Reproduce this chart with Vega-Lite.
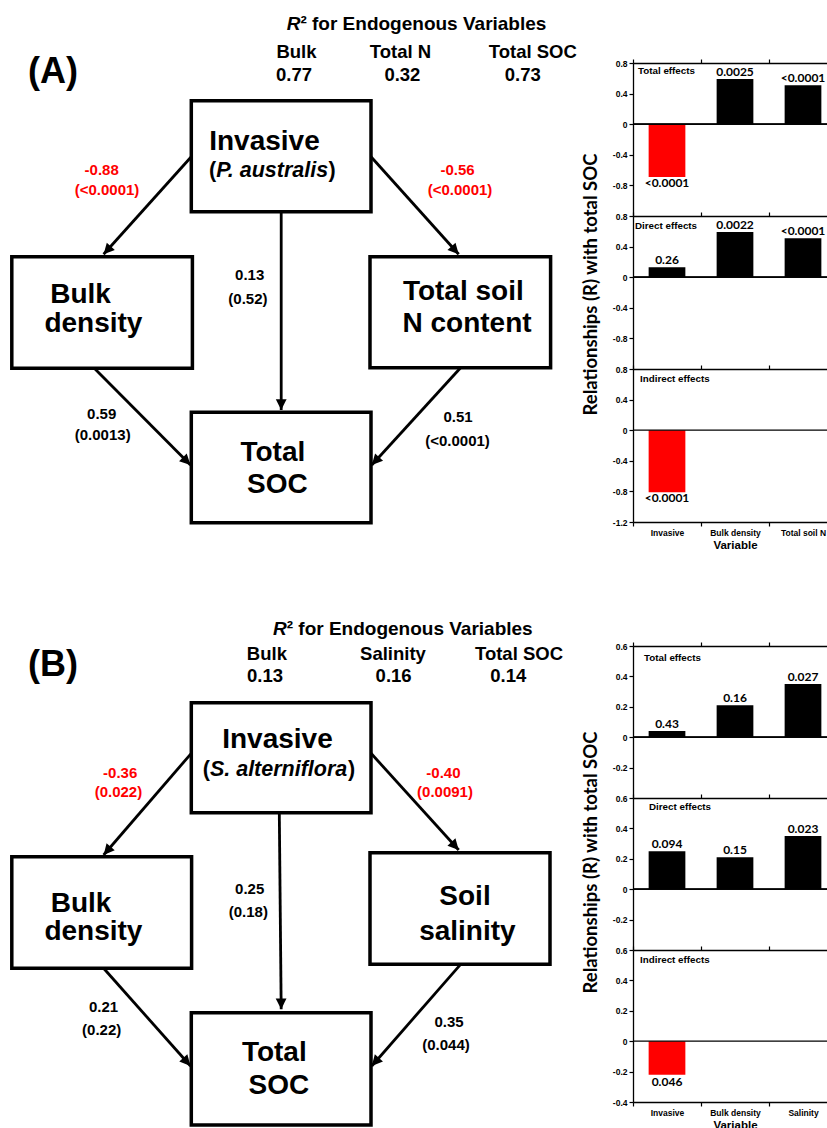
{
  "$schema": "https://vega.github.io/schema/vega-lite/v6.json",
  "padding": 0,
  "background": "white",
  "config": {
    "view": {"stroke": null},
    "font": "Liberation Sans",
    "axis": {"domainColor": "#000", "tickColor": "#000", "labelColor": "#000", "titleColor": "#000", "domainWidth": 1.3, "tickWidth": 1.2, "tickSize": 4, "grid": false, "labelFont": "Liberation Sans", "labelFontWeight": "bold", "labelFontSize": 8.5, "labelPadding": 2},
    "text": {"color": "#000"}
  },
  "datasets": {
    "nodes": [
      {"fig": "A", "node": "Invasive", "x1": 191.3, "x2": 371, "y1": 100.7, "y2": 211.7},
      {"fig": "A", "node": "Bulk density", "x1": 11.8, "x2": 192.4, "y1": 256.7, "y2": 368.3},
      {"fig": "A", "node": "Total soil N", "x1": 370, "x2": 550.6, "y1": 256.7, "y2": 367.7},
      {"fig": "A", "node": "Total SOC", "x1": 191.3, "x2": 371, "y1": 412.3, "y2": 522.7},
      {"fig": "B", "node": "Invasive", "x1": 191.3, "x2": 371, "y1": 702.7, "y2": 812.7},
      {"fig": "B", "node": "Bulk density", "x1": 11.8, "x2": 191.6, "y1": 856.7, "y2": 968.3},
      {"fig": "B", "node": "Soil salinity", "x1": 370, "x2": 550, "y1": 852.7, "y2": 964.3},
      {"fig": "B", "node": "Total SOC", "x1": 191.3, "x2": 371, "y1": 1012.7, "y2": 1125}
    ],
    "edges": [
      {"fig": "A", "from": "Invasive", "to": "Bulk density", "x1": 191.3, "y1": 156.7, "x2": 103.6, "y2": 254.3, "coef": "-0.88", "p": "<0.0001", "lx": 101.7, "ly": 175.4, "px": 107, "py": 195.1},
      {"fig": "A", "from": "Invasive", "to": "Total soil N", "x1": 371, "y1": 156.7, "x2": 458.7, "y2": 254.3, "coef": "-0.56", "p": "<0.0001", "lx": 457.5, "ly": 175.4, "px": 460, "py": 195.1},
      {"fig": "A", "from": "Invasive", "to": "Total SOC", "x1": 281.2, "y1": 211.7, "x2": 281.2, "y2": 410, "coef": "0.13", "p": "0.52", "lx": 249.7, "ly": 280.4, "px": 247.9, "py": 303.7},
      {"fig": "A", "from": "Bulk density", "to": "Total SOC", "x1": 94.3, "y1": 368.3, "x2": 190.5, "y2": 465, "coef": "0.59", "p": "0.0013", "lx": 101.7, "ly": 418.7, "px": 102.7, "py": 439.7},
      {"fig": "A", "from": "Total soil N", "to": "Total SOC", "x1": 460.6, "y1": 367.7, "x2": 371.8, "y2": 465, "coef": "0.51", "p": "<0.0001", "lx": 458, "ly": 422, "px": 457.5, "py": 446},
      {"fig": "B", "from": "Invasive", "to": "Bulk density", "x1": 191.3, "y1": 753.3, "x2": 103.6, "y2": 855, "coef": "-0.36", "p": "0.022", "lx": 120.2, "ly": 778, "px": 118.4, "py": 797},
      {"fig": "B", "from": "Invasive", "to": "Soil salinity", "x1": 371, "y1": 753.3, "x2": 458.7, "y2": 850, "coef": "-0.40", "p": "0.0091", "lx": 443.4, "ly": 778, "px": 445, "py": 797},
      {"fig": "B", "from": "Invasive", "to": "Total SOC", "x1": 279.3, "y1": 812.7, "x2": 281.2, "y2": 1009.3, "coef": "0.25", "p": "0.18", "lx": 249.7, "ly": 893.7, "px": 248.3, "py": 917},
      {"fig": "B", "from": "Bulk density", "to": "Total SOC", "x1": 103.6, "y1": 968.3, "x2": 190.5, "y2": 1066, "coef": "0.21", "p": "0.22", "lx": 103.6, "ly": 1012, "px": 101.7, "py": 1035.4},
      {"fig": "B", "from": "Soil salinity", "to": "Total SOC", "x1": 460.6, "y1": 964.3, "x2": 371.8, "y2": 1066, "coef": "0.35", "p": "0.044", "lx": 449, "ly": 1027, "px": 446, "py": 1050.4}
    ],
    "labels": [
      {"kind": "panel", "text": "(A)", "x": 28, "y": 83},
      {"kind": "panel", "text": "(B)", "x": 28, "y": 676},
      {"kind": "hdrR", "text": "R", "x": 286.7, "y": 30},
      {"kind": "hdrR", "text": "R", "x": 273, "y": 635},
      {"kind": "hdr", "text": "² for Endogenous Variables", "x": 300.4, "y": 30},
      {"kind": "hdr", "text": "² for Endogenous Variables", "x": 286.7, "y": 635},
      {"kind": "col", "text": "Bulk", "x": 296.5, "y": 58},
      {"kind": "col", "text": "Total N", "x": 400.5, "y": 58},
      {"kind": "col", "text": "Total SOC", "x": 532.8, "y": 58},
      {"kind": "col", "text": "0.77", "x": 294, "y": 81},
      {"kind": "col", "text": "0.32", "x": 402.4, "y": 81},
      {"kind": "col", "text": "0.73", "x": 522.7, "y": 81},
      {"kind": "col", "text": "Bulk", "x": 266.9, "y": 660},
      {"kind": "col", "text": "Salinity", "x": 393, "y": 660},
      {"kind": "col", "text": "Total SOC", "x": 519, "y": 660},
      {"kind": "col", "text": "0.13", "x": 265, "y": 682},
      {"kind": "col", "text": "0.16", "x": 393.6, "y": 682},
      {"kind": "col", "text": "0.14", "x": 508.3, "y": 682},
      {"kind": "box", "text": "Invasive", "x": 264.5, "y": 150},
      {"kind": "box", "text": "Bulk", "x": 80.5, "y": 303},
      {"kind": "box", "text": "density", "x": 93.4, "y": 331.7},
      {"kind": "box", "text": "Total soil", "x": 463.3, "y": 300},
      {"kind": "box", "text": "N content", "x": 467, "y": 331.7},
      {"kind": "box", "text": "Total", "x": 272.9, "y": 460.7},
      {"kind": "box", "text": "SOC", "x": 277.4, "y": 493.3},
      {"kind": "box", "text": "Invasive", "x": 277.5, "y": 748.3},
      {"kind": "box", "text": "Bulk", "x": 81, "y": 911.7},
      {"kind": "box", "text": "density", "x": 93.4, "y": 940},
      {"kind": "box", "text": "Soil", "x": 465, "y": 905},
      {"kind": "box", "text": "salinity", "x": 467.4, "y": 940},
      {"kind": "box", "text": "Total", "x": 274.3, "y": 1060.7},
      {"kind": "box", "text": "SOC", "x": 278.8, "y": 1094},
      {"kind": "sp", "text": "(", "x": 209, "y": 177},
      {"kind": "spi", "text": "P. australis", "x": 216.2, "y": 177},
      {"kind": "sp", "text": ")", "x": 328.5, "y": 177},
      {"kind": "sp", "text": "(", "x": 202.7, "y": 775.5},
      {"kind": "spi", "text": "S. alterniflora", "x": 209.9, "y": 775.5},
      {"kind": "sp", "text": ")", "x": 348, "y": 775.5}
    ],
    "bars": [
      {"fig": "A", "effect": "Total effects", "variable": "Invasive", "value": -0.69, "p": "<0.0001"},
      {"fig": "A", "effect": "Total effects", "variable": "Bulk density", "value": 0.59, "p": "0.0025"},
      {"fig": "A", "effect": "Total effects", "variable": "Total soil N", "value": 0.51, "p": "<0.0001"},
      {"fig": "A", "effect": "Direct effects", "variable": "Invasive", "value": 0.13, "p": "0.26"},
      {"fig": "A", "effect": "Direct effects", "variable": "Bulk density", "value": 0.59, "p": "0.0022"},
      {"fig": "A", "effect": "Direct effects", "variable": "Total soil N", "value": 0.51, "p": "<0.0001"},
      {"fig": "A", "effect": "Indirect effects", "variable": "Invasive", "value": -0.81, "p": "<0.0001"},
      {"fig": "B", "effect": "Total effects", "variable": "Invasive", "value": 0.04, "p": "0.43"},
      {"fig": "B", "effect": "Total effects", "variable": "Bulk density", "value": 0.21, "p": "0.16"},
      {"fig": "B", "effect": "Total effects", "variable": "Salinity", "value": 0.35, "p": "0.027"},
      {"fig": "B", "effect": "Direct effects", "variable": "Invasive", "value": 0.25, "p": "0.094"},
      {"fig": "B", "effect": "Direct effects", "variable": "Bulk density", "value": 0.21, "p": "0.15"},
      {"fig": "B", "effect": "Direct effects", "variable": "Salinity", "value": 0.35, "p": "0.023"},
      {"fig": "B", "effect": "Indirect effects", "variable": "Invasive", "value": -0.22, "p": "0.046"}
    ]
  },
  "spacing": 3,
  "hconcat": [
    {
      "width": 578,
      "height": 1128,
      "layer": [
        {
          "data": {"name": "edges"},
          "mark": {"type": "rule", "color": "#000", "strokeWidth": 2.8},
          "encoding": {
            "x": {"field": "x1", "type": "quantitative", "scale": {"domain": [0, 578], "nice": false, "zero": false}, "axis": null},
            "y": {"field": "y1", "type": "quantitative", "scale": {"domain": [0, 1128], "nice": false, "zero": false, "reverse": true}, "axis": null},
            "x2": {"field": "x2"},
            "y2": {"field": "y2"}
          }
        },
        {
          "data": {"name": "nodes"},
          "mark": {"type": "rect", "fill": "white", "stroke": "#000", "strokeWidth": 3.5},
          "encoding": {
            "x": {"field": "x1", "type": "quantitative", "scale": {"domain": [0, 578], "nice": false, "zero": false}, "axis": null},
            "y": {"field": "y1", "type": "quantitative", "scale": {"domain": [0, 1128], "nice": false, "zero": false, "reverse": true}, "axis": null},
            "x2": {"field": "x2"},
            "y2": {"field": "y2"}
          }
        },
        {
          "data": {"name": "edges"},
          "transform": [{"calculate": "atan2(datum.x2 - datum.x1, datum.y1 - datum.y2) * 180 / PI", "as": "angle"}],
          "mark": {"type": "point", "shape": "M0,0L0.9,1.8L-0.9,1.8Z", "filled": true, "color": "#000", "opacity": 1, "size": 144, "strokeWidth": 0},
          "encoding": {
            "x": {"field": "x2", "type": "quantitative", "scale": {"domain": [0, 578], "nice": false, "zero": false}, "axis": null},
            "y": {"field": "y2", "type": "quantitative", "scale": {"domain": [0, 1128], "nice": false, "zero": false, "reverse": true}, "axis": null},
            "angle": {"field": "angle", "type": "quantitative", "scale": null}
          }
        },
        {
          "data": {"name": "edges"},
          "mark": {"type": "text", "font": "Liberation Sans", "fontWeight": "bold", "fontSize": 15, "baseline": "alphabetic", "align": "center"},
          "encoding": {
            "x": {"field": "lx", "type": "quantitative", "scale": {"domain": [0, 578], "nice": false, "zero": false}, "axis": null},
            "y": {"field": "ly", "type": "quantitative", "scale": {"domain": [0, 1128], "nice": false, "zero": false, "reverse": true}, "axis": null},
            "text": {"field": "coef"},
            "color": {"condition": {"test": "toNumber(datum.coef) < 0", "value": "#ff0000"}, "value": "#000000"}
          }
        },
        {
          "data": {"name": "edges"},
          "transform": [{"calculate": "'(' + datum.p + ')'", "as": "ptext"}],
          "mark": {"type": "text", "font": "Liberation Sans", "fontWeight": "bold", "fontSize": 15, "baseline": "alphabetic", "align": "center"},
          "encoding": {
            "x": {"field": "px", "type": "quantitative", "scale": {"domain": [0, 578], "nice": false, "zero": false}, "axis": null},
            "y": {"field": "py", "type": "quantitative", "scale": {"domain": [0, 1128], "nice": false, "zero": false, "reverse": true}, "axis": null},
            "text": {"field": "ptext"},
            "color": {"condition": {"test": "toNumber(datum.coef) < 0", "value": "#ff0000"}, "value": "#000000"}
          }
        },
        {
          "data": {"name": "labels"},
          "transform": [{"filter": "datum.kind == 'panel'"}],
          "mark": {"type": "text", "font": "Liberation Sans", "fontWeight": "bold", "fontSize": 36, "baseline": "alphabetic", "align": "left"},
          "encoding": {
            "x": {"field": "x", "type": "quantitative", "scale": {"domain": [0, 578], "nice": false, "zero": false}, "axis": null},
            "y": {"field": "y", "type": "quantitative", "scale": {"domain": [0, 1128], "nice": false, "zero": false, "reverse": true}, "axis": null},
            "text": {"field": "text"}
          }
        },
        {
          "data": {"name": "labels"},
          "transform": [{"filter": "datum.kind == 'hdrR'"}],
          "mark": {"type": "text", "font": "Liberation Sans", "fontWeight": "bold", "fontStyle": "italic", "fontSize": 19, "baseline": "alphabetic", "align": "left"},
          "encoding": {
            "x": {"field": "x", "type": "quantitative", "scale": {"domain": [0, 578], "nice": false, "zero": false}, "axis": null},
            "y": {"field": "y", "type": "quantitative", "scale": {"domain": [0, 1128], "nice": false, "zero": false, "reverse": true}, "axis": null},
            "text": {"field": "text"}
          }
        },
        {
          "data": {"name": "labels"},
          "transform": [{"filter": "datum.kind == 'hdr'"}],
          "mark": {"type": "text", "font": "Liberation Sans", "fontWeight": "bold", "fontSize": 19, "baseline": "alphabetic", "align": "left"},
          "encoding": {
            "x": {"field": "x", "type": "quantitative", "scale": {"domain": [0, 578], "nice": false, "zero": false}, "axis": null},
            "y": {"field": "y", "type": "quantitative", "scale": {"domain": [0, 1128], "nice": false, "zero": false, "reverse": true}, "axis": null},
            "text": {"field": "text"}
          }
        },
        {
          "data": {"name": "labels"},
          "transform": [{"filter": "datum.kind == 'col'"}],
          "mark": {"type": "text", "font": "Liberation Sans", "fontWeight": "bold", "fontSize": 18.5, "baseline": "alphabetic", "align": "center"},
          "encoding": {
            "x": {"field": "x", "type": "quantitative", "scale": {"domain": [0, 578], "nice": false, "zero": false}, "axis": null},
            "y": {"field": "y", "type": "quantitative", "scale": {"domain": [0, 1128], "nice": false, "zero": false, "reverse": true}, "axis": null},
            "text": {"field": "text"}
          }
        },
        {
          "data": {"name": "labels"},
          "transform": [{"filter": "datum.kind == 'box'"}],
          "mark": {"type": "text", "font": "Liberation Sans", "fontWeight": "bold", "fontSize": 28, "baseline": "alphabetic", "align": "center"},
          "encoding": {
            "x": {"field": "x", "type": "quantitative", "scale": {"domain": [0, 578], "nice": false, "zero": false}, "axis": null},
            "y": {"field": "y", "type": "quantitative", "scale": {"domain": [0, 1128], "nice": false, "zero": false, "reverse": true}, "axis": null},
            "text": {"field": "text"}
          }
        },
        {
          "data": {"name": "labels"},
          "transform": [{"filter": "datum.kind == 'sp'"}],
          "mark": {"type": "text", "font": "Liberation Sans", "fontWeight": "bold", "fontSize": 21.5, "baseline": "alphabetic", "align": "left"},
          "encoding": {
            "x": {"field": "x", "type": "quantitative", "scale": {"domain": [0, 578], "nice": false, "zero": false}, "axis": null},
            "y": {"field": "y", "type": "quantitative", "scale": {"domain": [0, 1128], "nice": false, "zero": false, "reverse": true}, "axis": null},
            "text": {"field": "text"}
          }
        },
        {
          "data": {"name": "labels"},
          "transform": [{"filter": "datum.kind == 'spi'"}],
          "mark": {"type": "text", "font": "Liberation Sans", "fontWeight": "bold", "fontStyle": "italic", "fontSize": 21.5, "baseline": "alphabetic", "align": "left"},
          "encoding": {
            "x": {"field": "x", "type": "quantitative", "scale": {"domain": [0, 578], "nice": false, "zero": false}, "axis": null},
            "y": {"field": "y", "type": "quantitative", "scale": {"domain": [0, 1128], "nice": false, "zero": false, "reverse": true}, "axis": null},
            "text": {"field": "text"}
          }
        }
      ]
    },
    {
      "spacing": 0,
      "vconcat": [
        {
          "width": 204,
          "height": 58,
          "data": {"values": [{"blank": ""}]},
          "mark": {"type": "text"},
          "encoding": {"text": {"field": "blank"}}
        },
        {
          "spacing": 90,
          "vconcat": [
            {
              "spacing": 0,
              "bounds": "flush",
              "vconcat": [
                {
                  "width": 204, "height": 153,
                  "data": {"name": "bars"},
                  "transform": [{"filter": "datum.fig == 'A' && datum.effect == 'Total effects'"}],
                  "resolve": {"scale": {"x": "independent"}, "axis": {"x": "independent"}},
                  "encoding": {"y": {"field": "value", "type": "quantitative", "scale": {"domain": [-1.2, 0.8], "nice": false}, "axis": {"values": [0.8, 0.4, 0, -0.4, -0.8], "labelExpr": "toString(datum.value)", "title": null}}},
                  "layer": [
                    {"mark": {"type": "bar", "width": {"band": 0.54}}, "encoding": {"x": {"field": "variable", "type": "nominal", "scale": {"domain": ["Invasive", "Bulk density", "Total soil N"], "paddingInner": 0, "paddingOuter": 0}, "axis": {"orient": "top", "labels": false, "title": null, "tickBand": "extent"}}, "color": {"condition": {"test": "datum.value < 0", "value": "#ff0000"}, "value": "#000000"}}},
                    {"mark": {"type": "rule", "color": "#000", "strokeWidth": 1.3}, "encoding": {"y": {"datum": 0}}},
                    {"transform": [{"filter": "datum.value >= 0"}], "mark": {"type": "text", "font": "Lato", "fontWeight": "bold", "fontSize": 12, "baseline": "alphabetic", "dy": -3}, "encoding": {"x": {"field": "variable", "type": "nominal", "scale": {"domain": ["Invasive", "Bulk density", "Total soil N"], "paddingInner": 0, "paddingOuter": 0}, "axis": null}, "text": {"field": "p"}}},
                    {"transform": [{"filter": "datum.value < 0"}], "mark": {"type": "text", "font": "Lato", "fontWeight": "bold", "fontSize": 12, "baseline": "alphabetic", "dy": 10}, "encoding": {"x": {"field": "variable", "type": "nominal", "scale": {"domain": ["Invasive", "Bulk density", "Total soil N"], "paddingInner": 0, "paddingOuter": 0}, "axis": null}, "text": {"field": "p"}}},
                    {"transform": [{"filter": "datum.variable == 'Invasive'"}], "mark": {"type": "text", "font": "Liberation Sans", "fontWeight": "bold", "fontSize": 9.8, "align": "left", "baseline": "top", "dx": -29, "dy": 3}, "encoding": {"x": {"field": "variable", "type": "nominal", "scale": {"domain": ["Invasive", "Bulk density", "Total soil N"], "paddingInner": 0, "paddingOuter": 0}, "axis": null}, "y": {"datum": 0.8}, "text": {"field": "effect"}}}
                  ]
                },
                {
                  "width": 204, "height": 153,
                  "data": {"name": "bars"},
                  "transform": [{"filter": "datum.fig == 'A' && datum.effect == 'Direct effects'"}],
                  "resolve": {"scale": {"x": "independent"}, "axis": {"x": "independent"}},
                  "encoding": {"y": {"field": "value", "type": "quantitative", "scale": {"domain": [-1.2, 0.8], "nice": false}, "axis": {"values": [0.8, 0.4, 0, -0.4, -0.8], "labelExpr": "toString(datum.value)", "title": "Relationships (R) with total SOC", "titleFont": "Lato", "titleFontSize": 18.5, "titleFontWeight": "bold", "titlePadding": 12, "titleY": 68}}},
                  "layer": [
                    {"mark": {"type": "bar", "width": {"band": 0.54}}, "encoding": {"x": {"field": "variable", "type": "nominal", "scale": {"domain": ["Invasive", "Bulk density", "Total soil N"], "paddingInner": 0, "paddingOuter": 0}, "axis": {"orient": "top", "labels": false, "title": null, "tickBand": "extent"}}, "color": {"condition": {"test": "datum.value < 0", "value": "#ff0000"}, "value": "#000000"}}},
                    {"mark": {"type": "rule", "color": "#000", "strokeWidth": 1.3}, "encoding": {"y": {"datum": 0}}},
                    {"transform": [{"filter": "datum.value >= 0"}], "mark": {"type": "text", "font": "Lato", "fontWeight": "bold", "fontSize": 12, "baseline": "alphabetic", "dy": -3}, "encoding": {"x": {"field": "variable", "type": "nominal", "scale": {"domain": ["Invasive", "Bulk density", "Total soil N"], "paddingInner": 0, "paddingOuter": 0}, "axis": null}, "text": {"field": "p"}}},
                    {"transform": [{"filter": "datum.variable == 'Invasive'"}], "mark": {"type": "text", "font": "Liberation Sans", "fontWeight": "bold", "fontSize": 9.8, "align": "left", "baseline": "top", "dx": -32, "dy": 5}, "encoding": {"x": {"field": "variable", "type": "nominal", "scale": {"domain": ["Invasive", "Bulk density", "Total soil N"], "paddingInner": 0, "paddingOuter": 0}, "axis": null}, "y": {"datum": 0.8}, "text": {"field": "effect"}}}
                  ]
                },
                {
                  "width": 204, "height": 153,
                  "data": {"name": "bars"},
                  "transform": [{"filter": "datum.fig == 'A' && datum.effect == 'Indirect effects'"}],
                  "resolve": {"scale": {"x": "independent"}, "axis": {"x": "independent"}},
                  "encoding": {"y": {"field": "value", "type": "quantitative", "scale": {"domain": [-1.2, 0.8], "nice": false}, "axis": {"values": [0.8, 0.4, 0, -0.4, -0.8, -1.2], "labelExpr": "toString(datum.value)", "title": null}}},
                  "layer": [
                    {"mark": {"type": "bar", "width": {"band": 0.54}}, "encoding": {"x": {"field": "variable", "type": "nominal", "scale": {"domain": ["Invasive", "Bulk density", "Total soil N"], "paddingInner": 0, "paddingOuter": 0}, "axis": {"orient": "top", "labels": false, "title": null, "tickBand": "extent"}}, "color": {"condition": {"test": "datum.value < 0", "value": "#ff0000"}, "value": "#000000"}}},
                    {"mark": {"type": "rule", "color": "#000", "strokeWidth": 1.3}, "encoding": {"y": {"datum": 0}}},
                    {"transform": [{"filter": "datum.value < 0"}], "mark": {"type": "text", "font": "Lato", "fontWeight": "bold", "fontSize": 12, "baseline": "alphabetic", "dy": 10}, "encoding": {"x": {"field": "variable", "type": "nominal", "scale": {"domain": ["Invasive", "Bulk density", "Total soil N"], "paddingInner": 0, "paddingOuter": 0}, "axis": {"orient": "bottom", "title": "Variable", "labelAngle": 0, "tickBand": "extent", "labelPadding": 2, "titleFont": "Liberation Sans", "titleFontSize": 11.5, "titleFontWeight": "bold", "titlePadding": 3}}, "text": {"field": "p"}}},
                    {"transform": [{"filter": "datum.variable == 'Invasive'"}], "mark": {"type": "text", "font": "Liberation Sans", "fontWeight": "bold", "fontSize": 9.8, "align": "left", "baseline": "top", "dx": -27, "dy": 5}, "encoding": {"x": {"field": "variable", "type": "nominal", "scale": {"domain": ["Invasive", "Bulk density", "Total soil N"], "paddingInner": 0, "paddingOuter": 0}, "axis": null}, "y": {"datum": 0.8}, "text": {"field": "effect"}}}
                  ]
                }
              ]
            },
            {
              "spacing": 0,
              "bounds": "flush",
              "vconcat": [
                {
                  "width": 204, "height": 152,
                  "data": {"name": "bars"},
                  "transform": [{"filter": "datum.fig == 'B' && datum.effect == 'Total effects'"}],
                  "resolve": {"scale": {"x": "independent"}, "axis": {"x": "independent"}},
                  "encoding": {"y": {"field": "value", "type": "quantitative", "scale": {"domain": [-0.4, 0.6], "nice": false}, "axis": {"values": [0.6, 0.4, 0.2, 0, -0.2], "labelExpr": "toString(datum.value)", "title": null}}},
                  "layer": [
                    {"mark": {"type": "bar", "width": {"band": 0.54}}, "encoding": {"x": {"field": "variable", "type": "nominal", "scale": {"domain": ["Invasive", "Bulk density", "Salinity"], "paddingInner": 0, "paddingOuter": 0}, "axis": {"orient": "top", "labels": false, "title": null, "tickBand": "extent"}}, "color": {"condition": {"test": "datum.value < 0", "value": "#ff0000"}, "value": "#000000"}}},
                    {"mark": {"type": "rule", "color": "#000", "strokeWidth": 1.3}, "encoding": {"y": {"datum": 0}}},
                    {"transform": [{"filter": "datum.value >= 0"}], "mark": {"type": "text", "font": "Lato", "fontWeight": "bold", "fontSize": 12, "baseline": "alphabetic", "dy": -3}, "encoding": {"x": {"field": "variable", "type": "nominal", "scale": {"domain": ["Invasive", "Bulk density", "Salinity"], "paddingInner": 0, "paddingOuter": 0}, "axis": null}, "text": {"field": "p"}}},
                    {"transform": [{"filter": "datum.variable == 'Invasive'"}], "mark": {"type": "text", "font": "Liberation Sans", "fontWeight": "bold", "fontSize": 9.8, "align": "left", "baseline": "top", "dx": -23, "dy": 7}, "encoding": {"x": {"field": "variable", "type": "nominal", "scale": {"domain": ["Invasive", "Bulk density", "Salinity"], "paddingInner": 0, "paddingOuter": 0}, "axis": null}, "y": {"datum": 0.6}, "text": {"field": "effect"}}}
                  ]
                },
                {
                  "width": 204, "height": 152,
                  "data": {"name": "bars"},
                  "transform": [{"filter": "datum.fig == 'B' && datum.effect == 'Direct effects'"}],
                  "resolve": {"scale": {"x": "independent"}, "axis": {"x": "independent"}},
                  "encoding": {"y": {"field": "value", "type": "quantitative", "scale": {"domain": [-0.4, 0.6], "nice": false}, "axis": {"values": [0.6, 0.4, 0.2, 0, -0.2], "labelExpr": "toString(datum.value)", "title": "Relationships (R) with total SOC", "titleFont": "Lato", "titleFontSize": 18.5, "titleFontWeight": "bold", "titlePadding": 12, "titleY": 64}}},
                  "layer": [
                    {"mark": {"type": "bar", "width": {"band": 0.54}}, "encoding": {"x": {"field": "variable", "type": "nominal", "scale": {"domain": ["Invasive", "Bulk density", "Salinity"], "paddingInner": 0, "paddingOuter": 0}, "axis": {"orient": "top", "labels": false, "title": null, "tickBand": "extent"}}, "color": {"condition": {"test": "datum.value < 0", "value": "#ff0000"}, "value": "#000000"}}},
                    {"mark": {"type": "rule", "color": "#000", "strokeWidth": 1.3}, "encoding": {"y": {"datum": 0}}},
                    {"transform": [{"filter": "datum.value >= 0"}], "mark": {"type": "text", "font": "Lato", "fontWeight": "bold", "fontSize": 12, "baseline": "alphabetic", "dy": -3}, "encoding": {"x": {"field": "variable", "type": "nominal", "scale": {"domain": ["Invasive", "Bulk density", "Salinity"], "paddingInner": 0, "paddingOuter": 0}, "axis": null}, "text": {"field": "p"}}},
                    {"transform": [{"filter": "datum.variable == 'Invasive'"}], "mark": {"type": "text", "font": "Liberation Sans", "fontWeight": "bold", "fontSize": 9.8, "align": "left", "baseline": "top", "dx": -18, "dy": 4}, "encoding": {"x": {"field": "variable", "type": "nominal", "scale": {"domain": ["Invasive", "Bulk density", "Salinity"], "paddingInner": 0, "paddingOuter": 0}, "axis": null}, "y": {"datum": 0.6}, "text": {"field": "effect"}}}
                  ]
                },
                {
                  "width": 204, "height": 152,
                  "data": {"name": "bars"},
                  "transform": [{"filter": "datum.fig == 'B' && datum.effect == 'Indirect effects'"}],
                  "resolve": {"scale": {"x": "independent"}, "axis": {"x": "independent"}},
                  "encoding": {"y": {"field": "value", "type": "quantitative", "scale": {"domain": [-0.4, 0.6], "nice": false}, "axis": {"values": [0.6, 0.4, 0.2, 0, -0.2, -0.4], "labelExpr": "toString(datum.value)", "title": null}}},
                  "layer": [
                    {"mark": {"type": "bar", "width": {"band": 0.54}}, "encoding": {"x": {"field": "variable", "type": "nominal", "scale": {"domain": ["Invasive", "Bulk density", "Salinity"], "paddingInner": 0, "paddingOuter": 0}, "axis": {"orient": "top", "labels": false, "title": null, "tickBand": "extent"}}, "color": {"condition": {"test": "datum.value < 0", "value": "#ff0000"}, "value": "#000000"}}},
                    {"mark": {"type": "rule", "color": "#000", "strokeWidth": 1.3}, "encoding": {"y": {"datum": 0}}},
                    {"transform": [{"filter": "datum.value < 0"}], "mark": {"type": "text", "font": "Lato", "fontWeight": "bold", "fontSize": 12, "baseline": "alphabetic", "dy": 11}, "encoding": {"x": {"field": "variable", "type": "nominal", "scale": {"domain": ["Invasive", "Bulk density", "Salinity"], "paddingInner": 0, "paddingOuter": 0}, "axis": {"orient": "bottom", "title": "Variable", "labelAngle": 0, "tickBand": "extent", "labelPadding": 2, "titleFont": "Liberation Sans", "titleFontSize": 11.5, "titleFontWeight": "bold", "titlePadding": 3}}, "text": {"field": "p"}}},
                    {"transform": [{"filter": "datum.variable == 'Invasive'"}], "mark": {"type": "text", "font": "Liberation Sans", "fontWeight": "bold", "fontSize": 9.8, "align": "left", "baseline": "top", "dx": -27, "dy": 5}, "encoding": {"x": {"field": "variable", "type": "nominal", "scale": {"domain": ["Invasive", "Bulk density", "Salinity"], "paddingInner": 0, "paddingOuter": 0}, "axis": null}, "y": {"datum": 0.6}, "text": {"field": "effect"}}}
                  ]
                }
              ]
            }
          ]
        }
      ]
    }
  ]
}
